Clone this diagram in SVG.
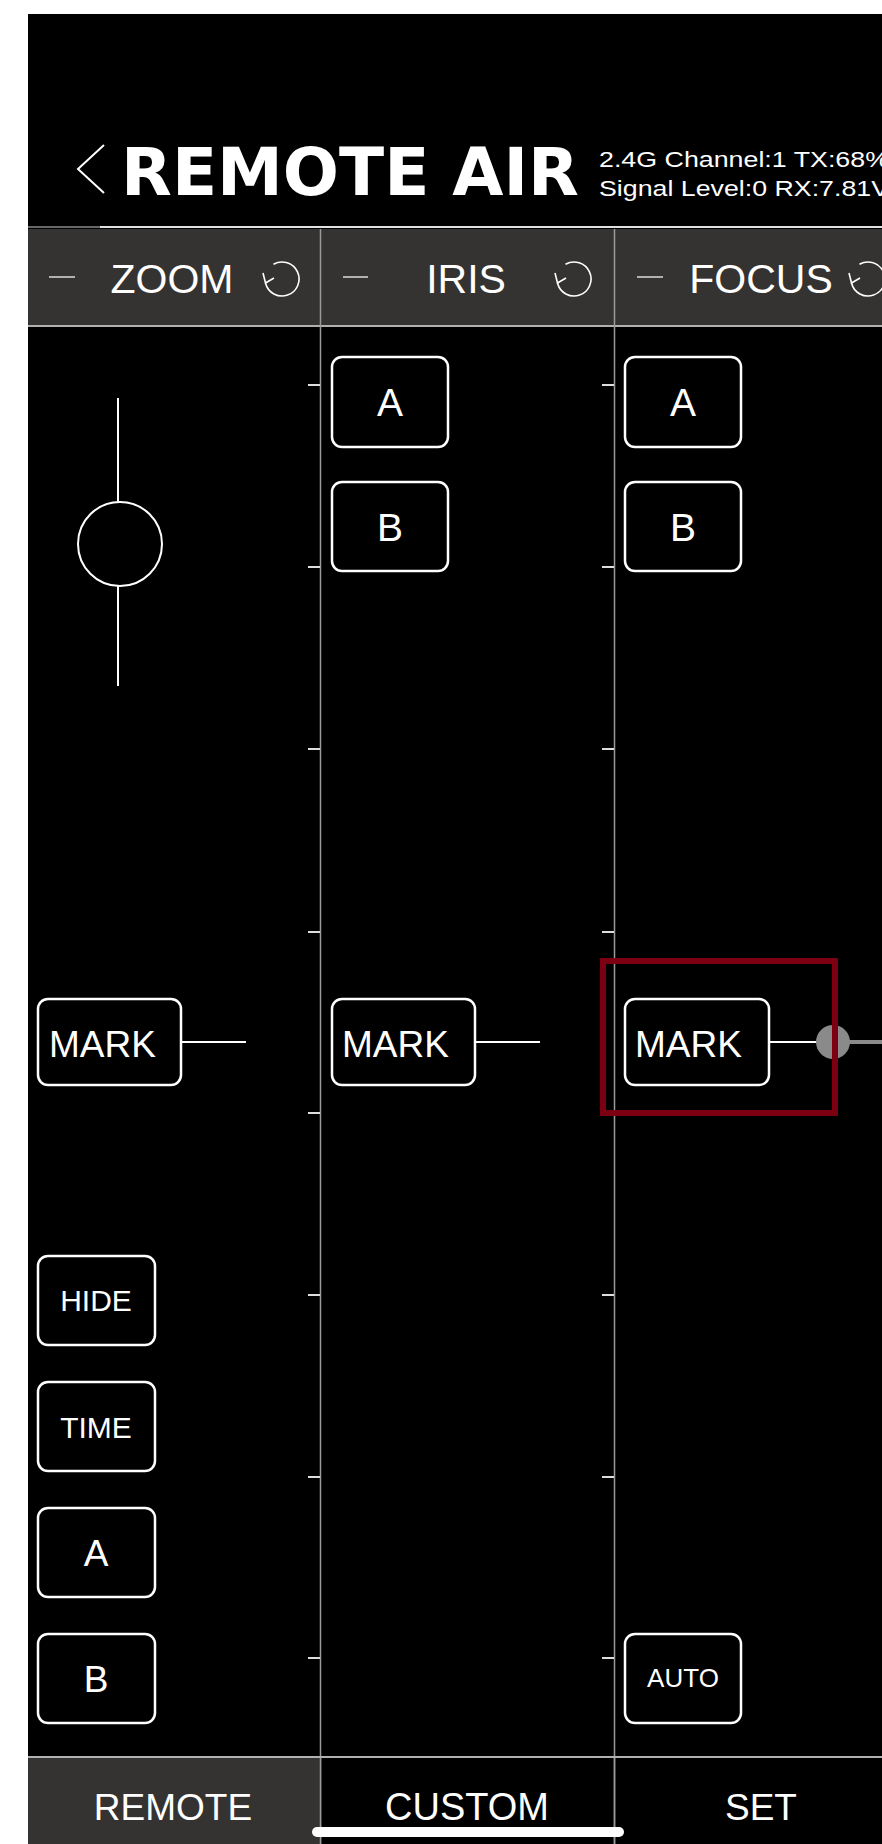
<svg xmlns="http://www.w3.org/2000/svg" width="882" height="1844" viewBox="0 0 882 1844">
<style>
.btn{fill:#000;stroke:#fff;stroke-width:2.5}
.t{font-family:"Liberation Sans",Arial,sans-serif;fill:#fff;text-anchor:middle}
.hd{font-size:41px}
.tick{stroke:#ddd;stroke-width:2}
.div{stroke:#9a9a9a;stroke-width:1.5}
.ln{stroke:#fff;stroke-width:2;fill:none}
.ic{stroke:#fff;stroke-width:1.6;fill:none}
</style>
<defs>
<g id="refresh"><path class="ic" d="M-8.5,-14.7 A17,17 0 1 1 -16.5,4"/><path class="ic" d="M-19,-6 L-16.5,4 L-8,-1"/></g>
</defs>
<rect x="0" y="0" width="882" height="1844" fill="#fff"/>
<rect x="28" y="14" width="854" height="1830" fill="#000"/>

<g id="title">
<path d="M104,145 L78,169 L104,193" fill="none" stroke="#fff" stroke-width="2"/>
<text x="121" y="195" font-family="'DejaVu Sans','Liberation Sans',sans-serif" font-weight="bold" font-size="66" fill="#fff" textLength="458" lengthAdjust="spacingAndGlyphs">REMOTE AIR</text>
<text x="599" y="167" font-family="'Liberation Sans',Arial,sans-serif" font-size="22" fill="#fff" textLength="290" lengthAdjust="spacingAndGlyphs">2.4G Channel:1 TX:68%</text>
<text x="599" y="196" font-family="'Liberation Sans',Arial,sans-serif" font-size="22" fill="#fff" textLength="290" lengthAdjust="spacingAndGlyphs">Signal Level:0 RX:7.81V</text>
</g>

<g id="header">
<line x1="28" y1="227" x2="882" y2="227" stroke="#666" stroke-width="2"/>
<line x1="100" y1="227" x2="882" y2="227" stroke="#e0e0e0" stroke-width="2"/>
<rect x="28" y="229" width="854" height="96" fill="#353331"/>
<line x1="28" y1="326" x2="882" y2="326" stroke="#b0b0b0" stroke-width="2"/>
</g>

<g id="hdr-zoom">
<line x1="49" y1="277" x2="75" y2="277" stroke="#ddd" stroke-width="1.5"/>
<text class="t hd" x="172" y="293">ZOOM</text>
<use href="#refresh" x="282" y="279"/>
</g>
<g id="hdr-iris">
<line x1="343" y1="277" x2="368" y2="277" stroke="#ddd" stroke-width="1.5"/>
<text class="t hd" x="466" y="293">IRIS</text>
<use href="#refresh" x="574" y="279"/>
</g>
<g id="hdr-focus">
<line x1="637" y1="277" x2="663" y2="277" stroke="#ddd" stroke-width="1.5"/>
<text class="t hd" x="761" y="293">FOCUS</text>
<use href="#refresh" x="868" y="279"/>
</g>

<g id="dividers">
<line class="div" x1="320.5" y1="229" x2="320.5" y2="1844"/>
<line class="div" x1="614.5" y1="229" x2="614.5" y2="1844"/>
</g>

<g id="ticks">
<line class="tick" x1="308" y1="385" x2="320" y2="385"/>
<line class="tick" x1="308" y1="567" x2="320" y2="567"/>
<line class="tick" x1="308" y1="749" x2="320" y2="749"/>
<line class="tick" x1="308" y1="932" x2="320" y2="932"/>
<line class="tick" x1="308" y1="1113" x2="320" y2="1113"/>
<line class="tick" x1="308" y1="1295" x2="320" y2="1295"/>
<line class="tick" x1="308" y1="1477" x2="320" y2="1477"/>
<line class="tick" x1="308" y1="1658" x2="320" y2="1658"/>
<line class="tick" x1="602" y1="385" x2="614" y2="385"/>
<line class="tick" x1="602" y1="567" x2="614" y2="567"/>
<line class="tick" x1="602" y1="749" x2="614" y2="749"/>
<line class="tick" x1="602" y1="932" x2="614" y2="932"/>
<line class="tick" x1="602" y1="1113" x2="614" y2="1113"/>
<line class="tick" x1="602" y1="1295" x2="614" y2="1295"/>
<line class="tick" x1="602" y1="1477" x2="614" y2="1477"/>
<line class="tick" x1="602" y1="1658" x2="614" y2="1658"/>
</g>

<g id="zoom-slider">
<line class="ln" x1="118" y1="398" x2="118" y2="502"/>
<circle class="ln" cx="120" cy="544" r="42"/>
<line class="ln" x1="118" y1="586" x2="118" y2="686"/>
</g>

<g id="iris-a"><rect class="btn" x="332" y="357" width="116" height="90" rx="10"/><text class="t" x="390" y="416" font-size="39">A</text></g>
<g id="iris-b"><rect class="btn" x="332" y="482" width="116" height="89" rx="10"/><text class="t" x="390" y="541" font-size="39">B</text></g>
<g id="focus-a"><rect class="btn" x="625" y="357" width="116" height="90" rx="10"/><text class="t" x="683" y="416" font-size="39">A</text></g>
<g id="focus-b"><rect class="btn" x="625" y="482" width="116" height="89" rx="10"/><text class="t" x="683" y="541" font-size="39">B</text></g>

<g id="zoom-mark"><rect class="btn" x="38" y="999" width="143" height="86" rx="10"/><text class="t" x="49" y="1057" font-size="37" text-anchor="start" style="text-anchor:start">MARK</text></g>
<g id="iris-mark"><rect class="btn" x="332" y="999" width="143" height="86" rx="10"/><text class="t" x="342" y="1057" font-size="37" style="text-anchor:start">MARK</text></g>
<g id="focus-mark"><rect class="btn" x="625" y="999" width="144" height="86" rx="10"/><text class="t" x="635" y="1057" font-size="37" style="text-anchor:start">MARK</text></g>

<g id="connectors">
<line class="ln" x1="181" y1="1042" x2="246" y2="1042"/>
<line class="ln" x1="475" y1="1042" x2="540" y2="1042"/>
<line class="ln" x1="769" y1="1042" x2="820" y2="1042"/>
<line x1="845" y1="1042" x2="882" y2="1042" stroke="#8a8a8a" stroke-width="4"/>
</g>
<g id="focus-handle"><circle cx="833" cy="1042" r="17" fill="#8a8a8a"/></g>
<g id="highlight"><rect x="603" y="961" width="232" height="152" fill="none" stroke="#7c0012" stroke-width="6"/></g>

<g id="zoom-hide"><rect class="btn" x="38" y="1256" width="117" height="89" rx="10"/><text class="t" x="96" y="1311" font-size="30">HIDE</text></g>
<g id="zoom-time"><rect class="btn" x="38" y="1382" width="117" height="89" rx="10"/><text class="t" x="96" y="1438" font-size="30">TIME</text></g>
<g id="zoom-a"><rect class="btn" x="38" y="1508" width="117" height="89" rx="10"/><text class="t" x="96" y="1566" font-size="37">A</text></g>
<g id="zoom-b"><rect class="btn" x="38" y="1634" width="117" height="89" rx="10"/><text class="t" x="96" y="1692" font-size="37">B</text></g>
<g id="focus-auto"><rect class="btn" x="625" y="1634" width="116" height="89" rx="10"/><text class="t" x="683" y="1687" font-size="26">AUTO</text></g>

<g id="tabbar">
<line x1="28" y1="1757" x2="882" y2="1757" stroke="#b0b0b0" stroke-width="2"/>
<rect x="28" y="1758" width="292" height="86" fill="#353331"/>
<line class="div" x1="320.5" y1="1758" x2="320.5" y2="1844"/>
<line class="div" x1="614.5" y1="1758" x2="614.5" y2="1844"/>
</g>
<g id="tab-remote"><text class="t" x="173" y="1820" font-size="37">REMOTE</text></g>
<g id="tab-custom"><text class="t" x="467" y="1820" font-size="38">CUSTOM</text></g>
<g id="tab-set"><text class="t" x="761" y="1820" font-size="37">SET</text></g>
<rect x="312" y="1827" width="312" height="10" rx="5" fill="#fff"/>
</svg>
